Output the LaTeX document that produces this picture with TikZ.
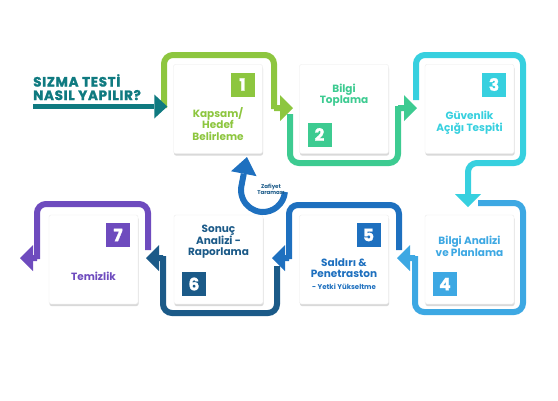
\documentclass[tikz,border=0pt]{standalone}
\usepackage{fontspec}
\setmainfont{Poppins}
\newfontfamily\heavyfont{Poppins}[FakeBold=1.6]
\newfontfamily\titlefont{Poppins}[FakeBold=1.6, LetterSpace=5]
\usetikzlibrary{arrows.meta,shadows}

\definecolor{cone}{HTML}{8DC63F}
\definecolor{ctwo}{HTML}{3DCB91}
\definecolor{cthree}{HTML}{37D0DF}
\definecolor{cfour}{HTML}{3DA8E3}
\definecolor{cfive}{HTML}{1E70BF}
\definecolor{csix}{HTML}{1B5A88}
\definecolor{cseven}{HTML}{6E4BBE}
\definecolor{ctitle}{HTML}{0F7A80}

\tikzset{
	stepbox/.style={draw=black!8, fill=white, rounded corners=2pt, minimum width=89pt, minimum height=89pt,
		drop shadow={shadow xshift=0.5pt, shadow yshift=-2pt, opacity=0.25, fill=black!60}},
	numbox/.style={fill=#1, text=white, minimum size=24pt, inner sep=0pt, font=\heavyfont\bfseries\fontsize{17}{17}\selectfont},
	steptext/.style={text=#1, align=center, inner sep=0pt, font=\bfseries\fontsize{10.5}{11.5}\selectfont},
	flow/.style={draw=#1, line width=6pt, rounded corners=9pt, -{Triangle[width=26pt,length=13pt,line width=0pt]}},
}

\begin{document}
\begin{tikzpicture}[x=1pt, y=-1pt]
	\useasboundingbox (0,0) rectangle (558,400);

	% title
	\node[anchor=north west, inner sep=0pt, align=left, text=ctitle, font=\titlefont\bfseries\fontsize{13.5}{13.5}\selectfont] (title) at (33,74) {SIZMA TESTİ\\NASIL YAPILIR?};

	% boxes
	\node[stepbox] (b1) at (218,109) {};
	\node[stepbox] (b2) at (344,109) {};
	\node[stepbox] (b3) at (469.5,109) {};
	\node[stepbox] (b4) at (469.5,259.5) {};
	\node[stepbox] (b5) at (344,259.5) {};
	\node[stepbox] (b6) at (218.5,259.5) {};
	\node[stepbox] (b7) at (93.5,259.5) {};

	% numbers
	\node[numbox=cone, anchor=north east, xshift=-8pt, yshift=-8pt] (n1) at (b1.north east) {1};
	\node[numbox=ctwo, anchor=south west, xshift=8pt, yshift=7pt] (n2) at (b2.south west) {2};
	\node[numbox=cthree, anchor=north east, xshift=-8pt, yshift=-8pt] (n3) at (b3.north east) {3};
	\node[numbox=cfour, anchor=south west, xshift=8pt, yshift=8pt] (n4) at (b4.south west) {4};
	\node[numbox=cfive, anchor=north east, xshift=-8pt, yshift=-8pt] (n5) at (b5.north east) {5};
	\node[numbox=csix, anchor=south west, xshift=8pt, yshift=8pt] (n6) at (b6.south west) {6};
	\node[numbox=cseven, anchor=north east, xshift=-8pt, yshift=-8pt] (n7) at (b7.north east) {7};

	% texts
	\node[steptext=cone] (t1) at ([yshift=-15pt]b1.center) {Kapsam/\\Hedef\\Belirleme};
	\node[steptext=ctwo] (t2) at ([yshift=14pt]b2.center) {Bilgi\\Toplama};
	\node[steptext=cthree] (t3) at ([yshift=-13.5pt]b3.center) {Güvenlik\\Açığı Tespiti};
	\node[steptext=cfour] (t4) at ([yshift=13pt]b4.center) {Bilgi Analizi\\ve Planlama};
	\node[steptext=cfive] (t5) at ([yshift=-14.5pt]b5.center) {Saldırı \&\\Penetraston\\{\fontsize{7}{9}\selectfont - Yetki Yükseltme}};
	\node[steptext=csix] (t6) at ([yshift=17.5pt]b6.center) {Sonuç\\Analizi -\\Raporlama};
	\node[steptext=cseven] (t7) at ([yshift=-16.5pt]b7.center) {Temizlik};

	% frames
	\draw[flow=cone] (164,108) -- (164,55) -- (274,55) -- (274,100) [sharp corners] -- (274,108) -- (293,108);
	\draw[flow=ctwo] (290,114) -- (290,163) -- (398,163) -- (398,115) [sharp corners] -- (398,108) -- (417,108);
	\draw[flow=cthree] (416,100) -- (416,55) -- (523,55) -- (523,163) -- (468,163) -- (468,207);
	\draw[flow=cfour] (478,203) -- (523,203) -- (523,312) -- (415,312) -- (415,265) [sharp corners] -- (415,258) -- (397,258);
	\draw[flow=cfive] (399,250) -- (399,205) -- (289,205) -- (289,250) [sharp corners] -- (289,258) -- (272,258);
	\draw[flow=csix] (277,266) -- (277,313) -- (163,313) -- (163,265) [sharp corners] -- (163,258) -- (146,258);
	\draw[flow=cseven] (148,250) -- (148,204) -- (37,204) -- (37,250) [sharp corners] -- (37,258) -- (20,258);

	% start
	\coordinate (start) at (33,106.5);
	\draw[ctitle, line width=5pt, -{Triangle[width=24pt,length=13pt,line width=0pt]}] (start) -- ([xshift=-6pt,yshift=2.5pt]b1.west);

	% scan loop
	\draw[cfive, line width=6pt, -{Triangle[width=26pt,length=17pt,line width=0pt]}] (263,190) ++(5:22) arc[start angle=5, end angle=195, radius=22] -- (247,157);
	\node[text=csix, align=center, inner sep=0pt, font=\bfseries\fontsize{5.5}{6}\selectfont] (scan) at (271,189) {Zafiyet\\Taraması};

\end{tikzpicture}
\end{document}
